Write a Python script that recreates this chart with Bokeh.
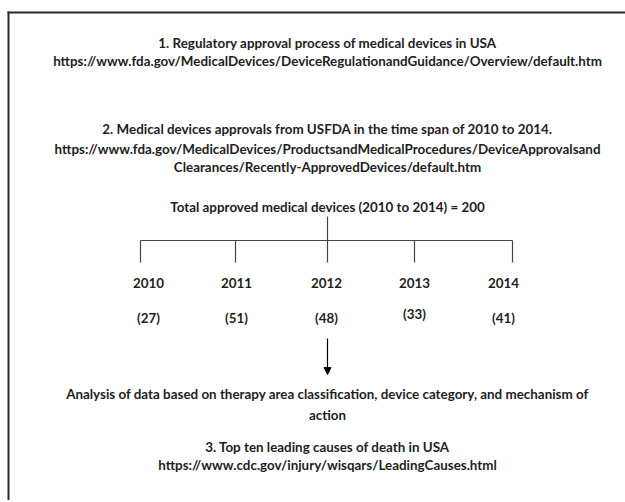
from bokeh.plotting import figure
from bokeh.models import Range1d, Arrow, NormalHead
from bokeh.core.properties import value
from bokeh.embed import file_html
from bokeh.resources import INLINE

# ---- data ----
source_titles = [
    "1. Regulatory approval process of medical devices in USA",
    "2. Medical devices approvals from USFDA in the time span of 2010 to 2014.",
    "3. Top ten leading causes of death in USA",
]
source_urls = [
    ["https://www.fda.gov/MedicalDevices/DeviceRegulationandGuidance/Overview/default.htm"],
    ["https://www.fda.gov/MedicalDevices/ProductsandMedicalProcedures/DeviceApprovalsand",
     "Clearances/Recently-ApprovedDevices/default.htm"],
    ["https://www.cdc.gov/injury/wisqars/LeadingCauses.html"],
]
total_label = "Total approved medical devices (2010 to 2014) = 200"
total_devices = 200
years = ["2010", "2011", "2012", "2013", "2014"]
counts = [27, 51, 48, 33, 41]
analysis_text = ["Analysis of data based on therapy area classification, device category, and mechanism of",
                 "action"]

# ---- layout (pixel coordinates of the page) ----
W, H = 625, 500
p = figure(width=W, height=H, x_range=Range1d(0, W), y_range=Range1d(H, 0),
           output_backend="svg", toolbar_location=None, min_border=0)
p.axis.visible = False
p.grid.visible = False
p.outline_line_color = None
p.background_fill_color = "white"
p.border_fill_color = "white"

FONT = value("Lato")
COL = "#1e1e1e"
CX = 327
FS = "13.4px"

def txt(xs, ys, texts, size=FS):
    p.text(x=xs, y=ys, text=texts, text_font=FONT, text_font_style="bold",
           text_font_size=size, text_color=COL, text_align="center", text_baseline="middle")

# frame (top and left edges visible)
p.segment(x0=[8, 7], y0=[11, 12], x1=[8, 625], y1=[502, 12],
          line_color="#2a2a2a", line_width=2)

# section 1
txt([CX, CX], [42, 60], [source_titles[0], source_urls[0][0]])
# section 2
txt([CX, CX, CX], [128, 148, 166], [source_titles[1]] + source_urls[1])
txt([CX], [206], [total_label])

# tree
branch_x = [140, 235, 327, 414, 512]
p.line(x=[CX, CX], y=[216, 240], line_color="#444444", line_width=1.2)
p.line(x=[branch_x[0], branch_x[-1]], y=[240, 240], line_color="#444444", line_width=1.2)
p.segment(x0=branch_x, y0=[240] * 5, x1=branch_x, y1=[262] * 5, line_color="#444444", line_width=1.2)

year_x = [148, 236, 326, 414, 503]
txt(year_x, [282] * 5, years)
val_y = [317, 317, 317, 313, 317]
txt(year_x, val_y, ["(%d)" % c for c in counts])

p.add_layout(Arrow(end=NormalHead(size=7, fill_color="black", line_color="black"),
                   x_start=CX, y_start=338, x_end=CX, y_end=374,
                   line_color="black", line_width=1.2))

txt([CX, CX], [393, 414], analysis_text)
txt([CX, CX], [446, 464], [source_titles[2], source_urls[2][0]])

open("out.html", "w").write(file_html(p, INLINE))
